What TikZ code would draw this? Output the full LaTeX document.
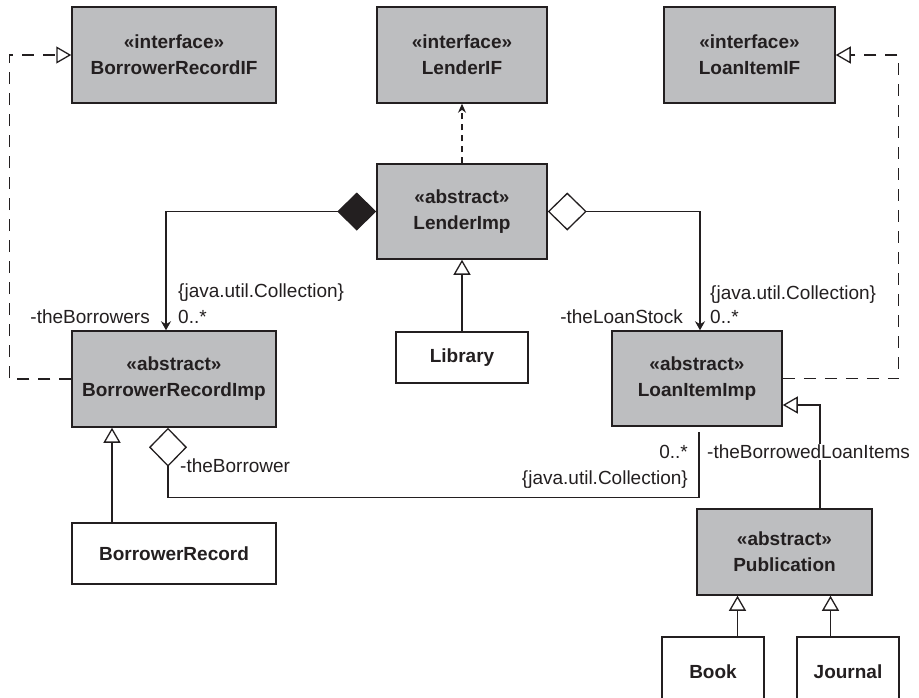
\documentclass[tikz,border=0pt]{standalone}
\usepackage{fontspec}
\setmainfont{Liberation Sans}
\usepackage{tikz}
\usetikzlibrary{arrows.meta}
\definecolor{classgray}{RGB}{189,190,192}
\definecolor{ink}{RGB}{35,31,32}
\tikzset{
every node/.style={font=\fontsize{19}{26}\selectfont, text=ink}, % plain labels
classbox/.style={draw=ink, line width=1.5pt, align=center, inner sep=0pt,
  font=\fontsize{19}{26}\selectfont\bfseries}, % a class
abstractbox/.style={classbox, fill=classgray}, % interfaces and abstract classes
lbl/.style={inner sep=0pt}, % role names and multiplicities
link/.style={draw=ink, line width=1.3pt},
inherit/.style={link, -{Triangle[open, fill=white, length=15pt, width=17pt]}}, % generalisation
realize/.style={inherit, dash pattern=on 12pt off 9pt}, % realisation
compose/.style={link, {Diamond[length=39pt, width=38pt]}-{Stealth[length=9pt, width=10pt]}},
aggregate/.style={link, {Diamond[open, fill=white, length=39pt, width=38pt]}-{Stealth[length=9pt, width=10pt]}},
}

\begin{document}
\begin{tikzpicture}[x=1pt, y=1pt]
        \useasboundingbox (0,0) rectangle (919,-697);

        \node[abstractbox, minimum width=204, minimum height=96] (brif) at (174,-55) {«interface»\\BorrowerRecordIF};
        \node[abstractbox, minimum width=170, minimum height=96] (lenderif) at (462,-55) {«interface»\\LenderIF};
        \node[abstractbox, minimum width=171, minimum height=96] (loanif) at (749.5,-55) {«interface»\\LoanItemIF};
        \node[abstractbox, minimum width=170, minimum height=95] (lenderimp) at (462,-211.5) {«abstract»\\LenderImp};
        \node[abstractbox, minimum width=204, minimum height=96] (brimp) at (174,-379) {«abstract»\\BorrowerRecordImp};
        \node[classbox, minimum width=132, minimum height=51] (library) at (462,-357.5) {Library};
        \node[abstractbox, minimum width=170, minimum height=95] (loanimp) at (697,-378.5) {«abstract»\\LoanItemImp};
        \node[classbox, minimum width=204, minimum height=61] (brec) at (174,-553.5) {BorrowerRecord};
        \node[abstractbox, minimum width=175, minimum height=86] (pub) at (784.5,-552) {«abstract»\\Publication};
        \node[classbox, minimum width=102, minimum height=75, text depth=0pt] (book) at (713,-674.5) {\raisebox{6pt}{Book}};
        \node[classbox, minimum width=102, minimum height=75, text depth=0pt] (journal) at (848,-674.5) {\raisebox{6pt}{Journal}};

        % realisations
        \draw[realize] (brimp.west) -- ++(-62,0) |- (brif.west);
        \draw[realize] (loanimp.east) -- ++(116,0) |- (loanif.east);
        \draw[link, dash pattern=on 6pt off 5pt, -{Stealth[length=9pt, width=8pt]}] (lenderimp.north) -- (lenderif.south);

        % generalisations
        \draw[inherit] (library.north) -- (lenderimp.south);
        \draw[inherit] ([xshift=-62pt]brec.north) -- ([xshift=-62pt]brimp.south);
        \draw[inherit] ([xshift=-47pt]pub.south |- book.north) -- ([xshift=-47pt]pub.south);
        \draw[inherit] ([xshift=46pt]pub.south |- journal.north) -- ([xshift=46pt]pub.south);
        \draw[inherit] ([xshift=35.5pt]pub.north) |- ([yshift=-26.5pt]loanimp.east);

        % associations
        \draw[compose] (lenderimp.west) -| ([xshift=-8pt]brimp.north);
        \draw[aggregate] (lenderimp.east) -| ([xshift=3pt]loanimp.north);
        \draw[link, {Diamond[open, fill=white, length=39pt, width=38pt]}-] ([xshift=-6pt]brimp.south)
              -- ++(0,-70) -| ([xshift=2pt, yshift=-5pt]loanimp.south);

        \node[lbl, anchor=west] (colleft) at (178,-293) {\{java.util.Collection\}};
        \node[lbl, anchor=west] (multleft) at (178,-317) {0..*};
        \node[lbl, anchor=east] (roleborrowers) at (150,-317) {-theBorrowers};
        \node[lbl, anchor=west] (colright) at (710,-295) {\{java.util.Collection\}};
        \node[lbl, anchor=west] (multright) at (710,-317) {0..*};
        \node[lbl, anchor=east] (rolestock) at (683,-317) {-theLoanStock};
        \node[lbl, anchor=west] (roleborrower) at (180,-466) {-theBorrower};
        \node[lbl, anchor=east] (multbottom) at (688,-452) {0..*};
        \node[lbl, anchor=east] (colbottom) at (688,-480) {\{java.util.Collection\}};
        \node[lbl, anchor=west, fill=white, inner sep=1pt] (roleitems) at (706,-452) {-theBorrowedLoanItems};
\end{tikzpicture}
\end{document}
